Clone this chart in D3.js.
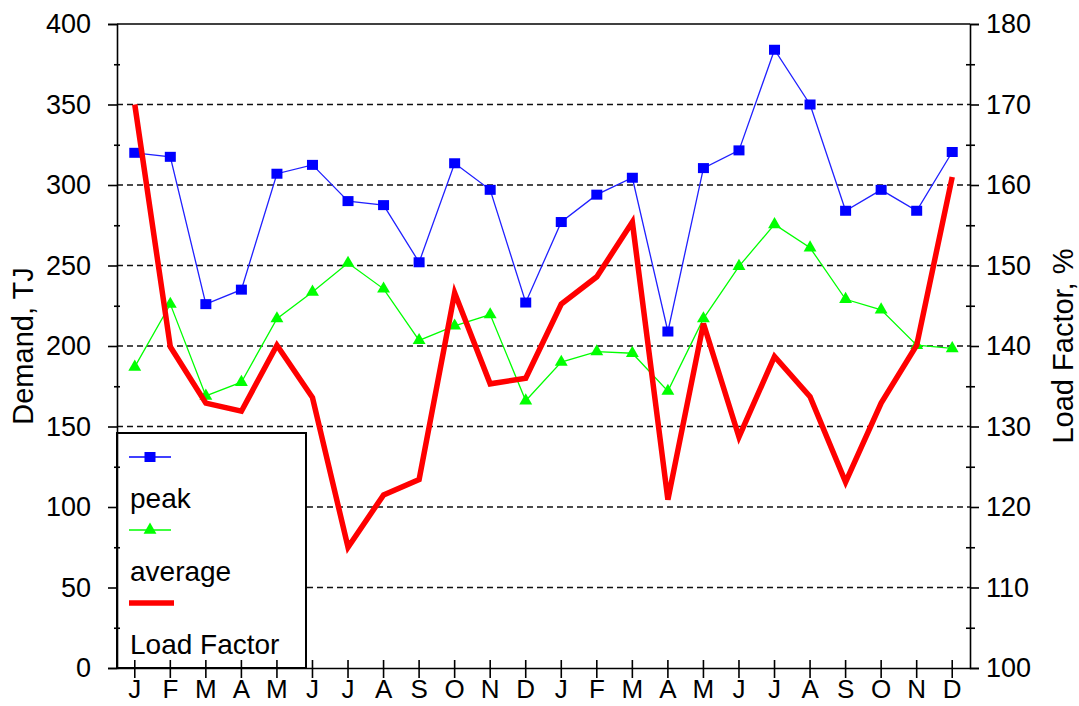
<!doctype html>
<html lang="en">

<head>
    <meta charset="utf-8">
    <title>Demand and load factor</title>
    <script src="https://cdn.jsdelivr.net/npm/d3@7"></script>
    <style>
        body {
            margin: 0;
            background: #ffffff;
        }

        svg {
            font-family: "Liberation Sans", Arial, sans-serif;
        }

        .axis .domain,
        .axis line {
            stroke: #000000;
            stroke-width: 1.6;
        }

        .axis text {
            font-family: "Liberation Sans", Arial, sans-serif;
            font-size: 27px;
            fill: #000000;
        }

        .grid line {
            stroke: #111111;
            stroke-width: 1.4;
            stroke-dasharray: 6, 4;
        }
    </style>
</head>

<body>
    <svg width="1079" height="706"></svg>

    <script>
        // two years of months
        var months = ["J", "F", "M", "A", "M", "J", "J", "A", "S", "O", "N", "D",
            "J", "F", "M", "A", "M", "J", "J", "A", "S", "O", "N", "D"];

        // TJ, left axis
        var peak = [320, 317.5, 226, 235, 307, 312.5, 290, 287.5, 252, 313.5, 297, 227,
            277, 294, 304.5, 209, 310.5, 321.5, 384, 350, 284, 297, 284, 320.5];
        var average = [187, 226, 169, 177.5, 217, 233.5, 251.5, 235.5, 203.5, 212.5, 219.5, 166,
            190, 196.5, 195.5, 172, 217, 249.5, 275.5, 261, 229, 222.5, 200.5, 198.5];

        // %, right axis
        var loadFactor = [170, 139.9, 132.9, 131.9, 140.1, 133.6, 115, 121.5, 123.4, 146.6, 135.3, 136,
            145.2, 148.6, 155.4, 120.9, 142.8, 128.7, 138.7, 133.7, 123.1, 132.9, 140.1, 161];

        var leftTicks = [0, 50, 100, 150, 200, 250, 300, 350, 400];
        var leftMinor = [25, 75, 125, 175, 225, 275, 325, 375];
        var rightTicks = [100, 110, 120, 130, 140, 150, 160, 170, 180];
        var rightMinor = [105, 115, 125, 135, 145, 155, 165, 175];

        var legendItems = [
            { label: "peak", color: "#0000ff", kind: "square" },
            { label: "average", color: "#00ff00", kind: "triangle" },
            { label: "Load Factor", color: "#ff0000", kind: "thick" }
        ];

        var plot = { left: 117, right: 970, top: 24, bottom: 668 };
        var svg = d3.select("svg");

        var x = d3.scaleBand()
            .domain(d3.range(months.length))
            .range([plot.left, plot.right]);
        var xc = function (i) { return x(i) + x.bandwidth() / 2; };

        var yLeft = d3.scaleLinear().domain([0, 400]).range([plot.bottom, plot.top]);
        var yRight = d3.scaleLinear().domain([100, 180]).range([plot.bottom, plot.top]);

        // dashed grid at the inner major values
        svg.append("g")
            .attr("class", "grid")
            .selectAll("line")
            .data(leftTicks.slice(1, -1))
            .enter()
            .append("line")
            .attr("x1", plot.left)
            .attr("x2", plot.right)
            .attr("y1", function (d) { return yLeft(d); })
            .attr("y2", function (d) { return yLeft(d); });

        var lineLeft = function (vals) {
            return d3.line()
                .x(function (d, i) { return xc(i); })
                .y(function (d) { return yLeft(d); })(vals);
        };

        // peak
        svg.append("path")
            .attr("d", lineLeft(peak))
            .attr("fill", "none")
            .attr("stroke", "#2020ff")
            .attr("stroke-width", 1.3);
        svg.append("g")
            .selectAll("rect")
            .data(peak)
            .enter()
            .append("rect")
            .attr("x", function (d, i) { return xc(i) - 5.5; })
            .attr("y", function (d) { return yLeft(d) - 5; })
            .attr("width", 11)
            .attr("height", 10)
            .attr("fill", "#0000ff");

        // average
        svg.append("path")
            .attr("d", lineLeft(average))
            .attr("fill", "none")
            .attr("stroke", "#00ff00")
            .attr("stroke-width", 1.3);
        var tri = d3.symbol().type(d3.symbolTriangle).size(72);
        svg.append("g")
            .selectAll("path")
            .data(average)
            .enter()
            .append("path")
            .attr("d", tri)
            .attr("transform", function (d, i) { return "translate(" + xc(i) + "," + yLeft(d) + ")"; })
            .attr("fill", "#00ff00");

        // load factor
        svg.append("path")
            .attr("d", d3.line()
                .x(function (d, i) { return xc(i); })
                .y(function (d) { return yRight(d); })(loadFactor))
            .attr("fill", "none")
            .attr("stroke", "#ff0000")
            .attr("stroke-width", 5.5)
            .attr("stroke-linejoin", "miter");

        // legend
        var lg = svg.append("g");
        lg.append("rect")
            .attr("x", 117)
            .attr("y", 433)
            .attr("width", 189)
            .attr("height", 235)
            .attr("fill", "#ffffff")
            .attr("stroke", "#000000")
            .attr("stroke-width", 2);

        var item = lg.selectAll("g")
            .data(legendItems)
            .enter()
            .append("g")
            .attr("transform", function (d, i) { return "translate(0," + i * 73 + ")"; });

        item.append("line")
            .attr("x1", 129)
            .attr("x2", function (d) { return d.kind === "thick" ? 174 : 171; })
            .attr("y1", 457)
            .attr("y2", 457)
            .attr("stroke", function (d) { return d.color; })
            .attr("stroke-width", function (d) { return d.kind === "thick" ? 5.5 : 1.3; });

        item.filter(function (d) { return d.kind === "square"; })
            .append("rect")
            .attr("x", 144.5)
            .attr("y", 452)
            .attr("width", 11)
            .attr("height", 10)
            .attr("fill", function (d) { return d.color; });

        item.filter(function (d) { return d.kind === "triangle"; })
            .append("path")
            .attr("d", tri)
            .attr("transform", "translate(150,457)")
            .attr("fill", function (d) { return d.color; });

        item.append("text")
            .attr("x", 130)
            .attr("y", 508)
            .attr("font-size", 28)
            .text(function (d) { return d.label; });

        // left axis
        svg.append("g")
            .attr("class", "axis")
            .attr("transform", "translate(" + plot.left + ",0)")
            .call(d3.axisLeft(yLeft).tickValues(leftTicks).tickSize(9).tickSizeOuter(9).tickPadding(17));
        svg.append("g")
            .attr("class", "axis")
            .attr("transform", "translate(" + (plot.left + 3) + ",0)")
            .call(d3.axisLeft(yLeft).tickValues(leftMinor).tickSize(6).tickFormat(""))
            .select(".domain").remove();

        // right axis
        svg.append("g")
            .attr("class", "axis")
            .attr("transform", "translate(" + plot.right + ",0)")
            .call(d3.axisRight(yRight).tickValues(rightTicks).tickSize(9).tickSizeOuter(9).tickPadding(7));
        svg.append("g")
            .attr("class", "axis")
            .attr("transform", "translate(" + (plot.right - 4) + ",0)")
            .call(d3.axisRight(yRight).tickValues(rightMinor).tickSize(9).tickFormat(""))
            .select(".domain").remove();

        // bottom axis, ticks cross the line
        svg.append("g")
            .attr("class", "axis")
            .attr("transform", "translate(0," + plot.bottom + ")")
            .call(d3.axisBottom(x).tickSize(10).tickSizeOuter(0).tickPadding(2)
                .tickFormat(function (i) { return months[i]; }))
            .selectAll("text")
            .attr("font-size", 26)
            .style("font-size", "26px");
        svg.append("g")
            .attr("class", "axis")
            .attr("transform", "translate(0," + plot.bottom + ")")
            .call(d3.axisTop(x).tickSize(8).tickSizeOuter(0).tickFormat(""))
            .select(".domain").remove();

        // top frame line
        svg.append("line")
            .attr("x1", plot.left)
            .attr("x2", plot.right)
            .attr("y1", plot.top)
            .attr("y2", plot.top)
            .attr("stroke", "#000000")
            .attr("stroke-width", 1.6);

        // axis titles
        svg.append("text")
            .attr("transform", "translate(33," + (plot.top + plot.bottom) / 2 + ") rotate(-90)")
            .attr("text-anchor", "middle")
            .attr("font-size", 29)
            .text("Demand, TJ");

        svg.append("text")
            .attr("transform", "translate(1073," + (plot.top + plot.bottom) / 2 + ") rotate(-90)")
            .attr("text-anchor", "middle")
            .attr("font-size", 29)
            .text("Load Factor, %");
    </script>

</body>

</html>
